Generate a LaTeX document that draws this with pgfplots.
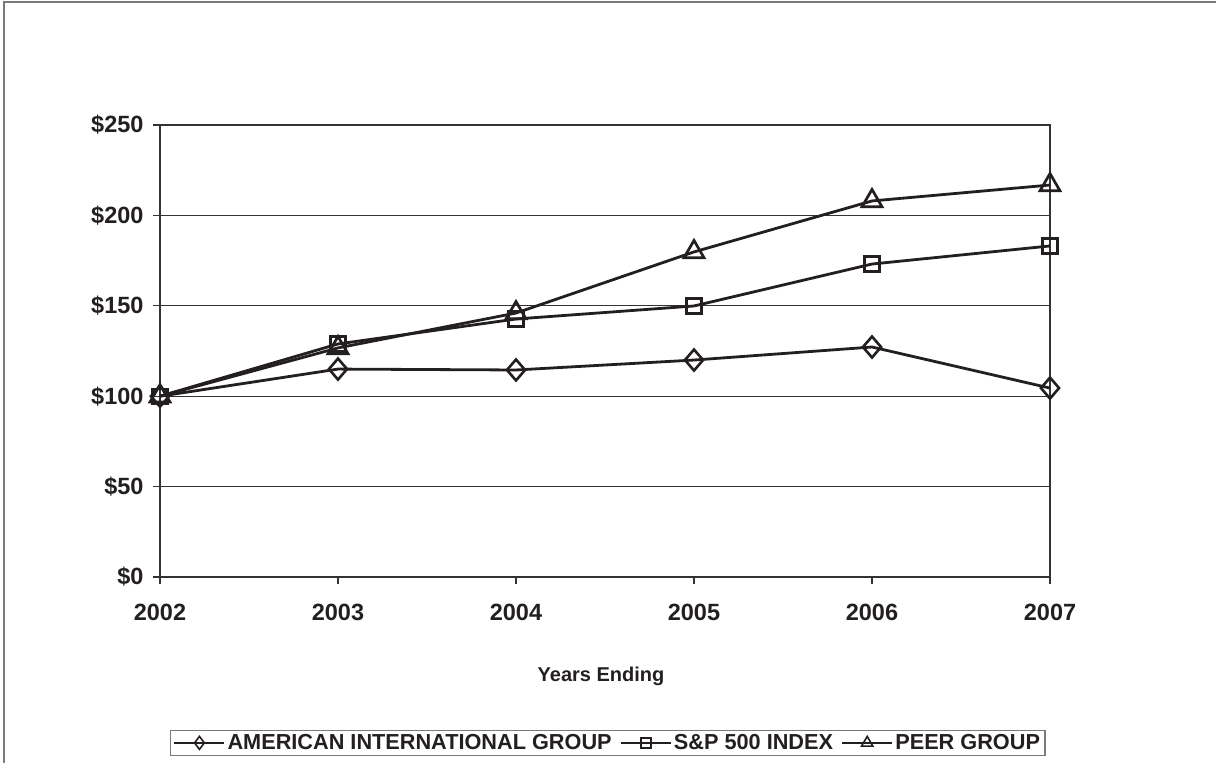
\documentclass[border=0pt]{standalone}
\usepackage{pgfplots}
\pgfplotsset{compat=1.18}
\usepackage{fontspec}
\setmainfont{Liberation Sans}
\definecolor{ink}{HTML}{231F20}
\definecolor{axisgray}{HTML}{333333}
\definecolor{framegray}{HTML}{7A7A7A}

\pgfplotsset{
  serie/.style={color=ink, line width=2.8pt},
  leg/.style={legend image code/.code={%
    \draw[mark repeat=2, mark phase=2, ##1, line width=2.2pt, mark size=#1,
      mark options={solid, fill=white, line width=1.6pt}]
      plot coordinates {(0pt,0pt) (25pt,0pt) (50pt,0pt)};}},
}

\begin{document}
\begin{tikzpicture}
\useasboundingbox (-160pt,-186pt) rectangle (1056pt,577pt);
\draw[framegray, line width=1.5pt] (-156pt,-186pt) -- (-156pt,575pt) -- (1056pt,575pt);
\begin{axis}[
  at={(0pt,0pt)}, anchor=south west,
  scale only axis,
  width=890pt, height=452pt,
  xmin=2002, xmax=2007,
  ymin=0, ymax=250,
  xtick=data,
  ytick={0,50,100,150,200,250},
  xtick pos=bottom, ytick pos=left,
  tick align=outside,
  major tick length=7pt,
  axis line style={axisgray, line width=1.4pt},
  tick style={axisgray, line width=1.4pt},
  ymajorgrids,
  grid style={axisgray, line width=1.3pt},
  /pgf/number format/assume math mode=true,
  /pgf/number format/1000 sep={},
  ticklabel style={font=\fontsize{23.5}{26}\selectfont\bfseries, color=ink},
  yticklabel={\$\pgfmathprintnumber{\tick}},
  yticklabel style={xshift=-6pt},
  xticklabel style={yshift=-17pt},
  xlabel={Years Ending},
  xlabel style={at={(axis description cs:0.4955,-0.219)}, anchor=center,
    font=\fontsize{20}{22}\selectfont\bfseries, color=ink},
  legend columns=-1,
  reverse legend,
  legend style={at={(axis description cs:0.503,-0.367)}, anchor=center,
    draw=framegray, line width=1.3pt,
    font=\fontsize{21.7}{24}\selectfont\bfseries, text=ink,
    inner xsep=3pt, inner ysep=2pt,
    /tikz/every even column/.append style={column sep=6pt}},
]
\addplot[serie, leg=6.5pt, mark=triangle, mark size=11.5pt,
  mark options={solid, fill=white, line width=2.7pt}] coordinates {
  (2002,100) (2003,126.7) (2004,146.0) (2005,179.8) (2006,208.0) (2007,216.8)};
\addlegendentry{PEER GROUP}
\addplot[serie, leg=5pt, mark=square, mark size=7.5pt,
  mark options={solid, fill=white, line width=2.2pt}] coordinates {
  (2002,100) (2003,128.9) (2004,142.7) (2005,149.9) (2006,173.1) (2007,183.1)};
\addlegendentry{S\&P 500 INDEX}
\addplot[serie, leg=6.5pt, mark=diamond, mark size=10.5pt,
  mark options={solid, fill=white, line width=2.6pt, xscale=1.15}] coordinates {
  (2002,100) (2003,115.0) (2004,114.5) (2005,120.0) (2006,127.2) (2007,104.5)};
\addlegendentry{AMERICAN INTERNATIONAL GROUP}
\end{axis}
\end{tikzpicture}
\end{document}
